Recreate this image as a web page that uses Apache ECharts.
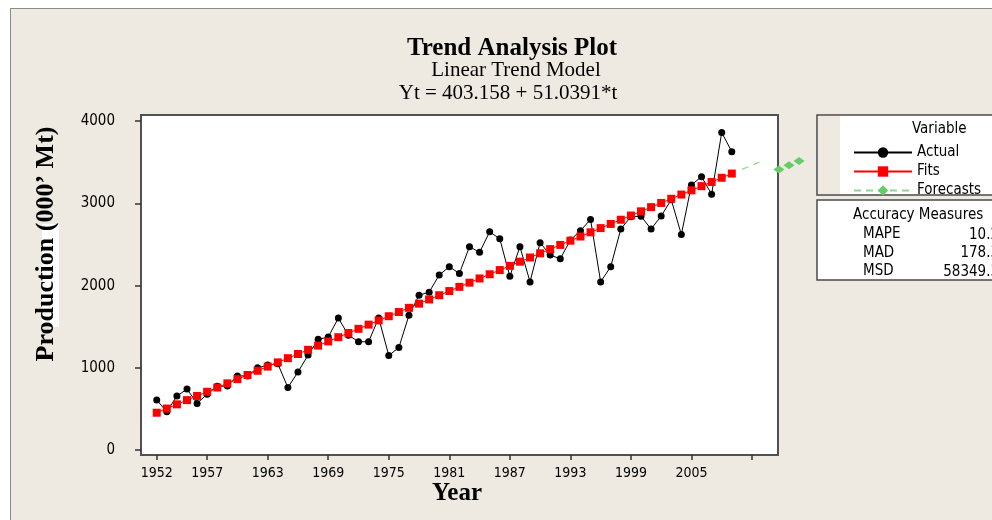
<!DOCTYPE html>
<html>
<head>
<meta charset="utf-8">
<title>Trend Analysis Plot</title>
<script src="https://cdn.jsdelivr.net/npm/echarts@6/dist/echarts.min.js"></script>
<style>
  html, body { margin: 0; padding: 0; background: #fff; }
  #wrap { position: relative; width: 992px; height: 520px; overflow: hidden; }
  #frame { position: absolute; left: 10px; top: 8px; width: 1000px; height: 600px;
           background: #eeeae1; border-left: 1px solid #8c8c8c; border-top: 1px solid #8c8c8c; }
  #main { position: absolute; left: 0; top: 0; width: 992px; height: 520px; }
</style>
</head>
<body>
<div id="wrap"><div id="frame"></div><div id="main"></div></div>
<script>
// years 1952..2009 (t = 1..58)
var years = [];
for (var y = 1952; y <= 2009; y++) years.push(y);

var actual = [608, 466, 657, 742, 568, 680, 775, 780, 902, 902,
              1000, 1035, 1050, 760, 950, 1155, 1347, 1375, 1606, 1397,
              1318, 1318, 1608, 1150, 1247, 1640, 1884, 1921, 2129, 2231,
              2148, 2474, 2405, 2655, 2571, 2113, 2474, 2046, 2523, 2373,
              2326, 2555, 2669, 2805, 2046, 2231, 2689, 2839, 2845, 2689,
              2847, 3045, 2622, 3225, 3326, 3111, 3863, 3630];

var fits = [454.2, 505.3, 556.3, 607.3, 658.4, 709.4, 760.4, 811.5, 862.5, 913.5,
            964.6, 1015.6, 1066.7, 1117.7, 1168.7, 1219.8, 1270.8, 1321.9, 1372.9, 1423.9,
            1475.0, 1526.0, 1577.0, 1628.1, 1679.1, 1730.2, 1781.2, 1832.2, 1883.3, 1934.3,
            1985.4, 2036.4, 2087.4, 2138.5, 2189.5, 2240.6, 2291.6, 2342.6, 2393.7, 2444.7,
            2495.8, 2546.8, 2597.8, 2648.9, 2699.9, 2750.9, 2802.0, 2853.0, 2904.1, 2955.1,
            3006.2, 3057.2, 3108.2, 3159.3, 3210.3, 3261.4, 3312.4, 3363.4];

var forecastYears = [2010, 2011, 2012];
var forecasts = [3414.5, 3465.5, 3516.5];

var tickYears = [1952, 1957, 1963, 1969, 1975, 1981, 1987, 1993, 1999, 2005, 2011];
var labelYears = [1952, 1957, 1963, 1969, 1975, 1981, 1987, 1993, 1999, 2005];
var yTicks = [0, 1000, 2000, 3000, 4000];

var measureNames = ['MAPE', 'MAD', 'MSD'];
var measureValues = ['10.2', '178.3', '58349.3'];

function pairs(xs, vs) {
    var out = [];
    for (var i = 0; i < vs.length; i++) out.push([xs[i], vs[i]]);
    return out;
}
function plain(v) { return String(v); }

var sansFont = "'DejaVu Sans Condensed', 'Noto Sans', sans-serif";
var narrowFont = "'Liberation Sans Narrow', 'DejaVu Sans Condensed', sans-serif";
var serifFont = "'Liberation Serif', 'DejaVu Serif', serif";

var graphics = [
    // legend boxes
    { type: 'rect', shape: { x: 817, y: 115, width: 200, height: 80 },
      style: { fill: '#ffffff', stroke: '#4a4a4a', lineWidth: 1.5 } },
    { type: 'rect', shape: { x: 818, y: 116, width: 22, height: 78 },
      style: { fill: '#eeeae1' } },
    { type: 'rect', shape: { x: 817, y: 200, width: 200, height: 80 },
      style: { fill: '#ffffff', stroke: '#4a4a4a', lineWidth: 1.5 } },
    { type: 'text', left: 912, top: 122,
      style: { text: 'Variable', font: '15px ' + sansFont, fill: '#000' } },
    { type: 'text', left: 853, top: 208,
      style: { text: 'Accuracy Measures', font: '15px ' + sansFont, fill: '#000' } },
    // titles
    { type: 'text', x: 512, y: 49, style: { text: 'Trend Analysis Plot', align: 'center', verticalAlign: 'middle',
      font: 'bold 25px ' + serifFont, fill: '#000' } },
    { type: 'text', x: 516, y: 70, style: { text: 'Linear Trend Model', align: 'center', verticalAlign: 'middle',
      font: '21px ' + serifFont, fill: '#000' } },
    { type: 'text', x: 508, y: 93, style: { text: 'Yt = 403.158 + 51.0391*t', align: 'center', verticalAlign: 'middle',
      font: '21px ' + serifFont, fill: '#000' } },
    // axis titles
    { type: 'rect', shape: { x: 42, y: 224, width: 17, height: 103 }, style: { fill: '#ffffff' } },
    { type: 'text', x: 46, y: 244, rotation: Math.PI / 2,
      style: { text: 'Production (000\u2019 Mt)', align: 'center', verticalAlign: 'middle',
               font: 'bold 26px ' + serifFont, fill: '#000' } },
    { type: 'text', x: 457, y: 494, style: { text: 'Year', align: 'center', verticalAlign: 'middle',
      font: 'bold 25px ' + serifFont, fill: '#000' } }
];
for (var i = 0; i < measureNames.length; i++) {
    graphics.push({ type: 'text', left: 863, top: 227 + i * 18.5,
        style: { text: measureNames[i], font: '15px ' + sansFont, fill: '#000' } });
    graphics.push({ type: 'text', x: 999, y: 235 + i * 18.5,
        style: { text: measureValues[i], align: 'right', verticalAlign: 'middle', font: '15px ' + sansFont, fill: '#000' } });
}

var chart = echarts.init(document.getElementById('main'), null, { renderer: 'canvas' });
chart.setOption({
    animation: false,
    backgroundColor: 'transparent',
    grid: { left: 141, top: 115, right: 214, bottom: 65, show: true,
            backgroundColor: '#ffffff', borderColor: '#505050', borderWidth: 2 },
    legend: {
        orient: 'vertical', left: 848, top: 140,
        itemWidth: 58, itemHeight: 13, itemGap: 4,
        textStyle: { fontFamily: sansFont, fontSize: 15, color: '#000' },
        data: ['Actual', 'Fits', 'Forecasts']
    },
    xAxis: {
        type: 'value', min: 1950.44, max: 2013.58,
        axisLine: { show: false, onZero: false },
        splitLine: { show: false },
        axisTick: { show: true, inside: false, length: 5, customValues: tickYears,
                    lineStyle: { color: '#333', width: 1.5 } },
        axisLabel: { customValues: labelYears, margin: 11, color: '#000', formatter: plain,
                     fontFamily: narrowFont, fontSize: 14 }
    },
    yAxis: {
        type: 'value', min: -60, max: 4076,
        axisLine: { show: false, onZero: false },
        splitLine: { show: false },
        axisTick: { show: true, inside: false, length: 6, customValues: yTicks,
                    lineStyle: { color: '#333', width: 1.5 } },
        axisLabel: { customValues: yTicks, margin: 26, color: '#000', formatter: plain,
                     fontFamily: sansFont, fontSize: 15 }
    },
    graphic: graphics,
    series: [
        { name: 'Actual', type: 'line', data: pairs(years, actual),
          symbol: 'circle', symbolSize: 7, z: 2,
          lineStyle: { color: '#000', width: 1 }, itemStyle: { color: '#000' } },
        { name: 'Fits', type: 'line', data: pairs(years, fits),
          symbol: 'rect', symbolSize: 8, z: 3,
          lineStyle: { color: '#ff0000', width: 1 }, itemStyle: { color: '#ff0000' } },
        { name: 'Forecasts', type: 'line', data: pairs(forecastYears, forecasts),
          symbol: 'diamond', symbolSize: [11, 8], symbolOffset: [37, 0], clip: false, z: 4,
          lineStyle: { color: '#8fd88f', width: 1.2, type: [7, 5] }, itemStyle: { color: '#66cc66' } }
    ]
});
</script>
</body>
</html>
